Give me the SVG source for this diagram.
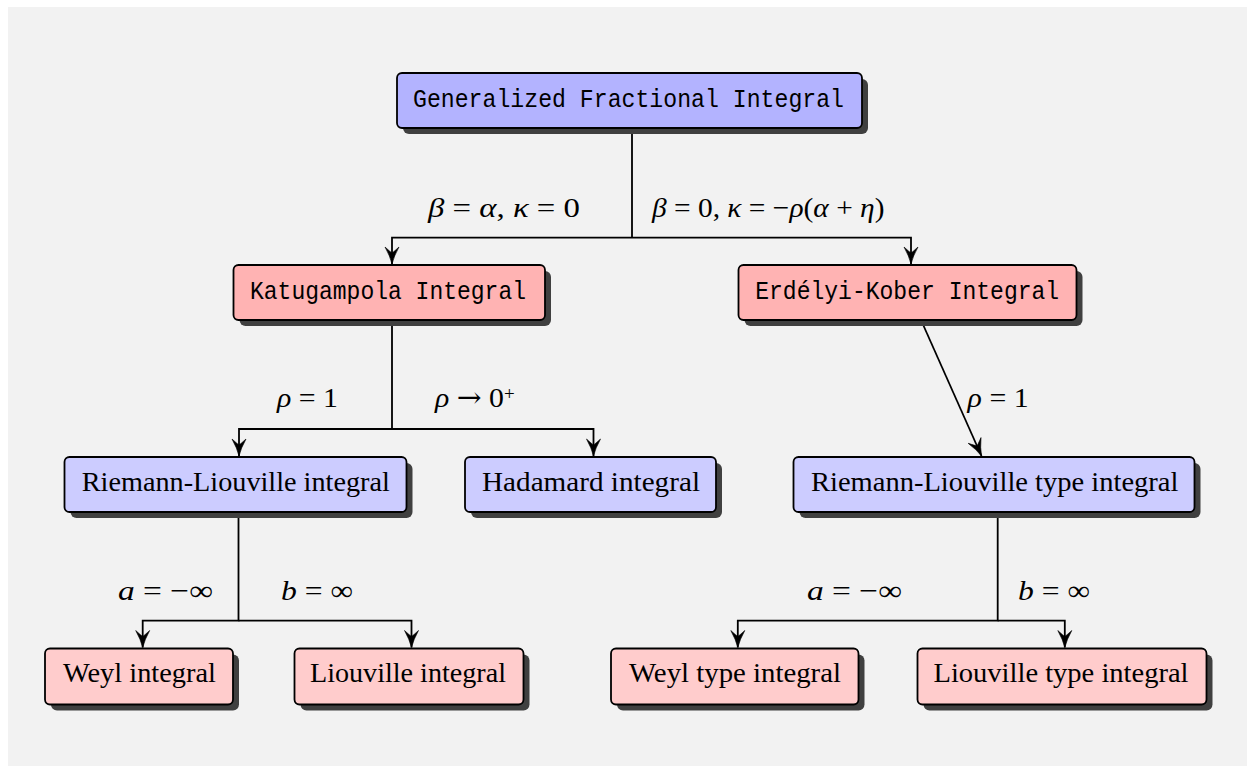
<svg xmlns="http://www.w3.org/2000/svg" width="1247" height="766" viewBox="0 0 1247 766">
<style>
.box{stroke:#000;stroke-width:1.8}
.sh{fill:#404040}
.c1{fill:#b3b3ff}.c2{fill:#ffb3b3}.c3{fill:#ccccff}.c4{fill:#ffcccc}
.mono{font-family:"Liberation Mono","DejaVu Sans Mono",monospace;font-size:26px;fill:#000}
.rm{font-family:"Liberation Serif","DejaVu Serif",serif;font-size:28px;fill:#000}
.i{font-style:italic}
.ar2{font-family:"DejaVu Serif",serif}
.ln{fill:none;stroke:#000;stroke-width:1.8}
</style>
<defs>
<marker id="ar" markerUnits="userSpaceOnUse" markerWidth="20" markerHeight="16" refX="18" refY="8" orient="auto" viewBox="0 0 20 16">
<path d="M18,8 Q10,6 1,1 Q6,6.5 7,8 Q6,9.5 1,15 Q10,10 18,8 Z" fill="#000" stroke="#000" stroke-width="0.6" stroke-linejoin="round"/>
</marker>
</defs>
<rect x="8" y="7" width="1239" height="759" fill="#f2f2f2"/>

<g id="connectors">
<path class="ln" d="M632,128 V237.7 M632,237.7 H392 V264" marker-end="url(#ar)"/>
<path class="ln" d="M632,237.7 H911 V264" marker-end="url(#ar)"/>
<path class="ln" d="M392,320 V429 H239 V456" marker-end="url(#ar)"/>
<path class="ln" d="M392,429 H593.5 V456" marker-end="url(#ar)"/>
<path class="ln" d="M921,320 L981.5,456" marker-end="url(#ar)"/>
<path class="ln" d="M238.5,512 V620.7 H142.7 V647.5" marker-end="url(#ar)"/>
<path class="ln" d="M238.5,620.7 H411.5 V647.5" marker-end="url(#ar)"/>
<path class="ln" d="M997.7,512 V620.7 H737.8 V647.5" marker-end="url(#ar)"/>
<path class="ln" d="M997.7,620.7 H1064.8 V647.5" marker-end="url(#ar)"/>
</g>

<g id="labels">
<text class="rm" x="428" y="217" textLength="152" lengthAdjust="spacingAndGlyphs"><tspan class="i">β</tspan> = <tspan class="i">α</tspan>,  <tspan class="i">κ</tspan> = 0</text>
<text class="rm" x="652" y="217" textLength="232.5" lengthAdjust="spacingAndGlyphs"><tspan class="i">β</tspan> = 0,  <tspan class="i">κ</tspan> = −<tspan class="i">ρ</tspan>(<tspan class="i">α</tspan> + <tspan class="i">η</tspan>)</text>
<text class="rm" x="277" y="407" textLength="61" lengthAdjust="spacingAndGlyphs"><tspan class="i">ρ</tspan> = 1</text>
<text class="rm" x="435" y="407" textLength="69" lengthAdjust="spacingAndGlyphs"><tspan class="i">ρ</tspan> <tspan class="ar2">→</tspan> 0</text>
<text class="rm" x="504" y="400" style="font-size:19px">+</text>
<text class="rm" x="967.6" y="407" textLength="61" lengthAdjust="spacingAndGlyphs"><tspan class="i">ρ</tspan> = 1</text>
<text class="rm" x="118" y="600" textLength="95" lengthAdjust="spacingAndGlyphs"><tspan class="i">a</tspan> = −∞</text>
<text class="rm" x="281" y="600" textLength="72" lengthAdjust="spacingAndGlyphs"><tspan class="i">b</tspan> = ∞</text>
<text class="rm" x="807" y="600" textLength="95" lengthAdjust="spacingAndGlyphs"><tspan class="i">a</tspan> = −∞</text>
<text class="rm" x="1018" y="600" textLength="72" lengthAdjust="spacingAndGlyphs"><tspan class="i">b</tspan> = ∞</text>
</g>

<g id="n-gfi">
<rect class="sh" x="403" y="79" width="465" height="55" rx="6"/>
<rect class="box c1" x="397" y="73" width="465" height="55" rx="5"/>
<text class="mono" x="628.5" y="107" text-anchor="middle" textLength="431" lengthAdjust="spacingAndGlyphs">Generalized Fractional Integral</text>
</g>

<g id="n-kat">
<rect class="sh" x="239.5" y="271" width="311.5" height="55" rx="6"/>
<rect class="box c2" x="233.5" y="265" width="311.5" height="55" rx="5"/>
<text class="mono" x="388" y="299" text-anchor="middle" textLength="276" lengthAdjust="spacingAndGlyphs">Katugampola Integral</text>
</g>

<g id="n-ek">
<rect class="sh" x="744.5" y="271" width="338" height="55" rx="6"/>
<rect class="box c2" x="738.5" y="265" width="338" height="55" rx="5"/>
<text class="mono" x="907.2" y="299" text-anchor="middle" textLength="304" lengthAdjust="spacingAndGlyphs">Erdélyi-Kober Integral</text>
</g>

<g id="n-rl">
<rect class="sh" x="70.5" y="463" width="342" height="55" rx="6"/>
<rect class="box c3" x="64.5" y="457" width="342" height="55" rx="5"/>
<text class="rm" x="235.8" y="491" text-anchor="middle" textLength="308" lengthAdjust="spacingAndGlyphs">Riemann-Liouville integral</text>
</g>

<g id="n-had">
<rect class="sh" x="471" y="463" width="251" height="55" rx="6"/>
<rect class="box c3" x="465" y="457" width="251" height="55" rx="5"/>
<text class="rm" x="591" y="491" text-anchor="middle" textLength="218" lengthAdjust="spacingAndGlyphs">Hadamard integral</text>
</g>

<g id="n-rlt">
<rect class="sh" x="799.5" y="463" width="401" height="55" rx="6"/>
<rect class="box c3" x="793.5" y="457" width="401" height="55" rx="5"/>
<text class="rm" x="994.7" y="491" text-anchor="middle" textLength="367.5" lengthAdjust="spacingAndGlyphs">Riemann-Liouville type integral</text>
</g>

<g id="n-weyl">
<rect class="sh" x="51" y="654.5" width="188" height="56" rx="6"/>
<rect class="box c4" x="45" y="648.5" width="188" height="56" rx="5"/>
<text class="rm" x="139.5" y="682" text-anchor="middle" textLength="153" lengthAdjust="spacingAndGlyphs">Weyl integral</text>
</g>

<g id="n-liou">
<rect class="sh" x="300.5" y="654.5" width="229" height="56" rx="6"/>
<rect class="box c4" x="294.5" y="648.5" width="229" height="56" rx="5"/>
<text class="rm" x="408" y="682" text-anchor="middle" textLength="196" lengthAdjust="spacingAndGlyphs">Liouville integral</text>
</g>

<g id="n-weylt">
<rect class="sh" x="617" y="654.5" width="247.5" height="56" rx="6"/>
<rect class="box c4" x="611" y="648.5" width="247.5" height="56" rx="5"/>
<text class="rm" x="735" y="682" text-anchor="middle" textLength="212" lengthAdjust="spacingAndGlyphs">Weyl type integral</text>
</g>

<g id="n-liout">
<rect class="sh" x="923.5" y="654.5" width="289" height="56" rx="6"/>
<rect class="box c4" x="917.5" y="648.5" width="289" height="56" rx="5"/>
<text class="rm" x="1061" y="682" text-anchor="middle" textLength="255" lengthAdjust="spacingAndGlyphs">Liouville type integral</text>
</g>
</svg>
